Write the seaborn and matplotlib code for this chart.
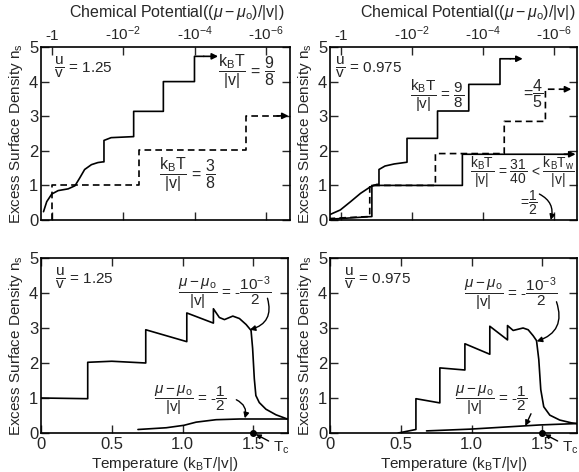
import matplotlib
matplotlib.use("Agg")
import matplotlib.pyplot as plt
import seaborn as sns
import pandas as pd

# ---------------- data ----------------
# top panels: x = decades of |mu-mu0|/|v| (0 -> -1, 2 -> -10^-2, ...)
top_ticks = [0, 2, 4, 6]
top_ticklabels = ["-1", "-10$^{-2}$", "-10$^{-4}$", "-10$^{-6}$"]
temp_ticks = [0, 0.5, 1.0, 1.5]
temp_ticklabels = ["0", "0.5", "1.0", "1.5"]
ns_ticks = [0, 1, 2, 3, 4, 5]

# top-left (u/v = 1.25)
tl_98_x = [-0.23, -0.14, 0.0, 0.18, 0.46, 0.65, 0.78, 0.92, 1.11, 1.29, 1.43, 1.46, 1.46, 1.66, 2.29, 2.29, 3.12, 3.12, 3.99, 3.99, 4.25]
tl_98_y = [0.24, 0.53, 0.75, 0.85, 0.90, 0.99, 1.21, 1.46, 1.60, 1.66, 1.68, 1.68, 2.30, 2.38, 2.41, 3.14, 3.14, 4.00, 4.00, 4.73, 4.73]
tl_38_x = [0.0, 0.0, 2.45, 2.45, 5.43, 5.43, 6.45]
tl_38_y = [0.0, 1.0, 1.0, 2.02, 2.02, 3.01, 3.01]

# top-right (u/v = 0.975)
tr_98_x = [-0.34, -0.01, 0.28, 0.56, 0.84, 1.02, 1.08, 1.08, 1.25, 1.51, 1.87, 1.87, 2.73, 2.73, 3.61, 3.61, 4.49, 4.49, 4.78]
tr_98_y = [0.14, 0.29, 0.53, 0.77, 0.96, 1.03, 1.03, 1.46, 1.56, 1.62, 1.67, 2.36, 2.36, 3.15, 3.15, 3.92, 3.92, 4.66, 4.66]
tr_3140_x = [-0.34, 0.88, 0.88, 3.43, 3.43, 6.4]
tr_3140_y = [0.02, 0.10, 1.0, 1.0, 1.9, 1.9]
tr_45_x = [-0.34, 0.0, 0.82, 0.82, 2.67, 2.67, 4.61, 4.61, 5.77, 5.77, 6.2]
tr_45_y = [0.04, 0.06, 0.10, 1.0, 1.0, 1.92, 1.92, 2.85, 2.85, 3.78, 3.78]

# bottom-left (u/v = 1.25)
bl_hi_x = [0.0, 0.33, 0.33, 0.50, 0.74, 0.74, 1.03, 1.03, 1.218, 1.218, 1.26, 1.296, 1.355, 1.402, 1.449, 1.484, 1.495, 1.507, 1.518, 1.542, 1.589, 1.66, 1.74]
bl_hi_y = [1.0, 0.98, 2.02, 2.05, 2.0, 2.95, 2.61, 3.43, 3.14, 3.55, 3.30, 3.24, 3.34, 3.27, 3.10, 2.93, 2.42, 1.55, 1.07, 0.87, 0.68, 0.52, 0.40]
bl_lo_x = [0.685, 0.885, 1.01, 1.096, 1.237, 1.402, 1.74]
bl_lo_y = [0.10, 0.15, 0.22, 0.31, 0.38, 0.40, 0.40]

# bottom-right (u/v = 0.975)
br_hi_x = [0.482, 0.607, 0.607, 0.776, 0.776, 0.953, 0.953, 1.129, 1.129, 1.254, 1.254, 1.294, 1.364, 1.40, 1.435, 1.459, 1.475, 1.489, 1.51, 1.553, 1.623, 1.706, 1.745]
br_hi_y = [0.0, 0.10, 0.98, 0.86, 1.86, 1.80, 2.55, 2.25, 3.05, 2.66, 3.07, 2.93, 3.0, 2.95, 2.78, 2.64, 2.1, 1.24, 0.75, 0.51, 0.37, 0.29, 0.27]
br_lo_x = [0.682, 0.988, 1.318, 1.483, 1.745]
br_lo_y = [0.06, 0.11, 0.19, 0.23, 0.27]

Tc = 1.5

# ---------------- style ----------------
sns.set_style("ticks")
plt.rcParams["font.family"] = ["Liberation Sans", "DejaVu Sans"]
plt.rcParams["mathtext.fontset"] = "custom"
plt.rcParams["mathtext.rm"] = "Liberation Sans"
plt.rcParams["mathtext.it"] = "Liberation Sans:italic"
plt.rcParams["mathtext.bf"] = "Liberation Sans:bold"

W, H = 579, 472
fig = plt.figure(figsize=(W / 100, H / 100), dpi=100)


def ax_at(l, r, t, b):
    return fig.add_axes([l / W, 1 - b / H, (r - l) / W, (b - t) / H])


ax_tl = ax_at(41, 290, 47, 220)
ax_tr = ax_at(330, 577, 47, 220)
ax_bl = ax_at(41, 288, 258, 433)
ax_br = ax_at(330, 577, 258, 433)

LW = 1.2
YLAB = "Excess Surface Density n$_\\mathregular{s}$"
XLAB = "Temperature (k$_\\mathregular{B}$T/|v|)"


def fr(a, b):
    return "$\\dfrac{\\mathregular{%s}}{\\mathregular{%s}}$" % (a, b)


KBT = fr("k_BT", "|v|")
MU = "$\\dfrac{\\mu-\\mu_\\mathregular{o}}{\\mathregular{|v|}}$"


def line(ax, x, y, dashed=False):
    df = pd.DataFrame({"x": x, "y": y})
    kw = dict(linestyle=(0, (4, 2.5))) if dashed else {}
    sns.lineplot(data=df, x="x", y="y", ax=ax, sort=False, estimator=None,
                 color="black", lw=LW, **kw)


def arrow_end(ax, x0, x1, y):
    ax.annotate("", xy=(x1, y), xytext=(x0, y),
                arrowprops=dict(arrowstyle="-|>", color="black", lw=LW,
                                mutation_scale=9, shrinkA=0, shrinkB=0),
                annotation_clip=False)


def curved(ax, xy, xytext, rad):
    ax.annotate("", xy=xy, xytext=xytext,
                arrowprops=dict(arrowstyle="-|>", color="black", lw=1.0, mutation_scale=8,
                                connectionstyle="arc3,rad=%s" % rad, shrinkA=0, shrinkB=0))


# ---- top-left
line(ax_tl, tl_98_x, tl_98_y)
arrow_end(ax_tl, tl_98_x[-1], tl_98_x[-1] + 0.4, tl_98_y[-1])
line(ax_tl, tl_38_x, tl_38_y, dashed=True)
arrow_end(ax_tl, 6.3, 6.62, tl_38_y[-1])
ax_tl.text(0.05, 4.4, fr("u", "v") + " = 1.25", fontsize=11, va="center")
ax_tl.text(4.65, 4.3, KBT + " = " + fr("9", "8"), fontsize=11.5, va="center")
ax_tl.text(3.0, 1.3, KBT + " = " + fr("3", "8"), fontsize=11.5, va="center")

# ---- top-right
line(ax_tr, tr_98_x, tr_98_y)
arrow_end(ax_tr, tr_98_x[-1], tr_98_x[-1] + 0.35, tr_98_y[-1])
line(ax_tr, tr_3140_x, tr_3140_y)
arrow_end(ax_tr, 6.3, 6.62, tr_3140_y[-1])
line(ax_tr, tr_45_x, tr_45_y, dashed=True)
arrow_end(ax_tr, tr_45_x[-1], tr_45_x[-1] + 0.3, tr_45_y[-1])
ax_tr.text(-0.15, 4.4, fr("u", "v") + " = 0.975", fontsize=11, va="center")
ax_tr.text(1.95, 3.6, KBT + " = " + fr("9", "8"), fontsize=11, va="center")
ax_tr.text(5.15, 3.65, "=" + fr("4", "5"), fontsize=11.5, va="center")
ax_tr.text(6.6, 1.38, KBT + " = " + fr("31", "40") + " < " + fr("k_BT_w", "|v|"),
           fontsize=10, va="center", ha="right")
ax_tr.text(5.05, 0.5, "=" + fr("1", "2"), fontsize=10, va="center")
curved(ax_tr, (5.92, 0.0), (5.6, 0.75), -0.4)

# ---- bottom-left
line(ax_bl, bl_hi_x, bl_hi_y)
line(ax_bl, bl_lo_x, bl_lo_y)
ax_bl.text(0.1, 4.4, fr("u", "v") + " = 1.25", fontsize=11, va="center")
ax_bl.text(0.97, 4.0, MU + " = -" + fr("10^{-3}", "2"), fontsize=11, va="center")
curved(ax_bl, (1.475, 2.95), (1.6, 3.85), -0.5)
ax_bl.text(0.8, 0.95, MU + " = -" + fr("1", "2"), fontsize=11, va="center")
curved(ax_bl, (1.44, 0.42), (1.38, 0.95), -0.4)
ax_bl.plot([Tc], [0.0], "o", color="black", ms=4, clip_on=False)
ax_bl.annotate("T$_\\mathregular{c}$", xy=(Tc, 0.0), xytext=(1.64, -0.42), fontsize=11,
               va="center", annotation_clip=False,
               arrowprops=dict(arrowstyle="-|>", color="black", lw=1.0, mutation_scale=7,
                               shrinkA=1, shrinkB=2))

# ---- bottom-right
line(ax_br, br_hi_x, br_hi_y)
line(ax_br, br_lo_x, br_lo_y)
ax_br.text(0.1, 4.4, fr("u", "v") + " = 0.975", fontsize=11, va="center")
ax_br.text(0.95, 3.95, MU + " = -" + fr("10^{-3}", "2"), fontsize=11, va="center")
curved(ax_br, (1.46, 2.62), (1.6, 3.75), -0.5)
ax_br.text(0.88, 0.95, MU + " = -" + fr("1", "2"), fontsize=11, va="center")
curved(ax_br, (1.38, 0.2), (1.42, 0.55), 0.0)
ax_br.plot([Tc], [0.0], "o", color="black", ms=4, clip_on=False)
ax_br.annotate("T$_\\mathregular{c}$", xy=(Tc, 0.0), xytext=(1.64, -0.42), fontsize=11,
               va="center", annotation_clip=False,
               arrowprops=dict(arrowstyle="-|>", color="black", lw=1.0, mutation_scale=7,
                               shrinkA=1, shrinkB=2))


# ---------------- axes formatting ----------------
def frame(ax):
    ax.set_ylim(0, 5)
    ax.set_yticks(ns_ticks)
    ax.set_yticklabels([str(t) for t in ns_ticks])
    ax.tick_params(axis="both", direction="in", length=6, width=1.0,
                   top=True, right=True, labelsize=12)
    ax.tick_params(axis="y", pad=2)
    for s in ax.spines.values():
        s.set_linewidth(1.2)
        s.set_color("black")
    ax.set_ylabel(YLAB, fontsize=11, labelpad=3)


for ax in (ax_tl, ax_tr):
    ax.set_xlim(-0.3, 6.66)
    ax.set_xticks(top_ticks)
    ax.set_xticklabels(top_ticklabels)
    frame(ax)
    ax.tick_params(axis="x", labelbottom=False, labeltop=True, labelsize=11, pad=3)
    ax.set_xlabel("")

for ax in (ax_bl, ax_br):
    ax.set_xlim(0, 1.745)
    ax.set_xticks(temp_ticks)
    ax.set_xticklabels(temp_ticklabels)
    frame(ax)
    ax.tick_params(axis="x", labelsize=12, pad=3)
    ax.set_xlabel(XLAB, fontsize=11, labelpad=2)

# titles
title = "Chemical Potential(($\\mu-\\mu_\\mathregular{o}$)/|v|)"
fig.text(177 / W, 1 - 12 / H, title, ha="center", va="center", fontsize=11.5)
fig.text(468 / W, 1 - 12 / H, title, ha="center", va="center", fontsize=11.5)

fig.savefig("out.png", dpi=100)
